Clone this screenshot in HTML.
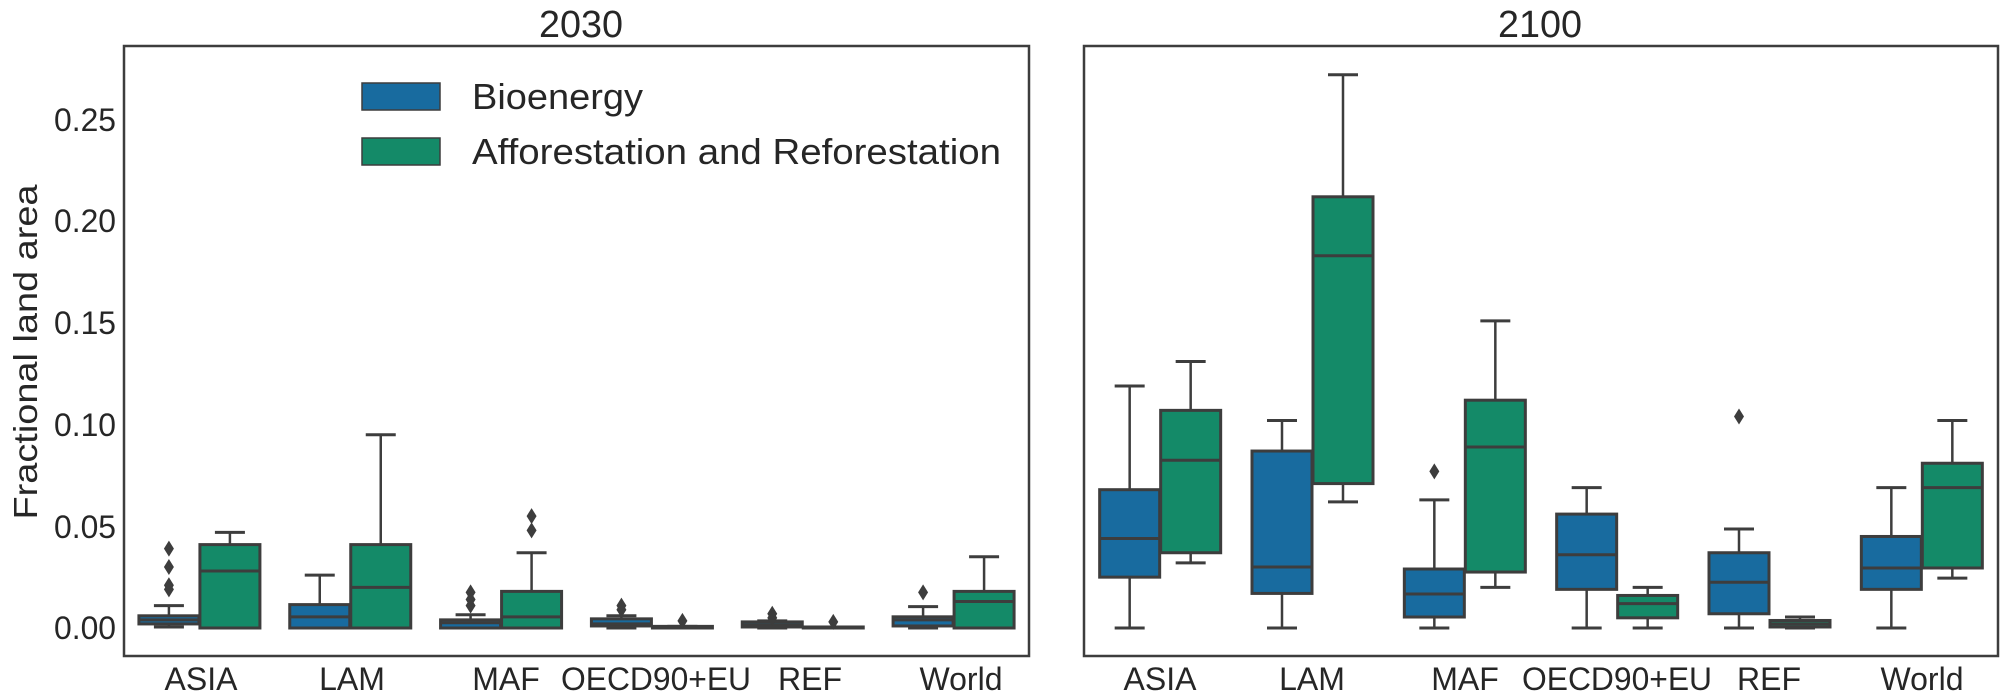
<!DOCTYPE html>
<html><head><meta charset="utf-8"><style>
html,body{margin:0;padding:0;background:#fff;}
svg{display:block;}
text{font-family:"Liberation Sans",Arial,sans-serif;fill:#262626;}
</style></head><body>
<svg id="s" width="2008" height="696" viewBox="0 0 2008 696" xmlns="http://www.w3.org/2000/svg">
<rect width="2008" height="696" fill="#fff"/>
<text x="581" y="37" font-size="38" text-anchor="middle" textLength="84" lengthAdjust="spacingAndGlyphs">2030</text>
<text x="1540" y="37" font-size="38" text-anchor="middle" textLength="84" lengthAdjust="spacingAndGlyphs">2100</text>
<g font-size="32" text-anchor="end">
<text x="116" y="639" textLength="62" lengthAdjust="spacingAndGlyphs">0.00</text>
<text x="116" y="538" textLength="62" lengthAdjust="spacingAndGlyphs">0.05</text>
<text x="116" y="436" textLength="62" lengthAdjust="spacingAndGlyphs">0.10</text>
<text x="116" y="334" textLength="62" lengthAdjust="spacingAndGlyphs">0.15</text>
<text x="116" y="232" textLength="62" lengthAdjust="spacingAndGlyphs">0.20</text>
<text x="116" y="131" textLength="62" lengthAdjust="spacingAndGlyphs">0.25</text>
</g>
<text transform="translate(37,352) rotate(-90)" font-size="33" text-anchor="middle" textLength="335" lengthAdjust="spacingAndGlyphs">Fractional land area</text>
<g font-size="32" text-anchor="middle">
<text x="201" y="690">ASIA</text><text x="352" y="690">LAM</text><text x="506" y="690">MAF</text>
<text x="656" y="690" textLength="190" lengthAdjust="spacingAndGlyphs">OECD90+EU</text><text x="810" y="690">REF</text><text x="961" y="690">World</text>
<text x="1160" y="690">ASIA</text><text x="1312" y="690">LAM</text><text x="1465" y="690">MAF</text>
<text x="1617" y="690" textLength="190" lengthAdjust="spacingAndGlyphs">OECD90+EU</text><text x="1769" y="690">REF</text><text x="1922" y="690">World</text>
</g>
<g id="boxes"></g>
<rect x="124" y="46" width="905" height="610" fill="none" stroke="#3d3d3d" stroke-width="2.5"/>
<rect x="1084" y="46" width="914" height="610" fill="none" stroke="#3d3d3d" stroke-width="2.5"/>
<rect x="362" y="83" width="78" height="27" fill="#186b9f" stroke="#3d3d3d" stroke-width="1.5"/>
<rect x="362" y="138" width="78" height="27" fill="#148a68" stroke="#3d3d3d" stroke-width="1.5"/>
<text x="472" y="109" font-size="36" textLength="171" lengthAdjust="spacingAndGlyphs">Bioenergy</text>
<text x="472" y="164" font-size="36" textLength="529" lengthAdjust="spacingAndGlyphs">Afforestation and Reforestation</text>
</svg>
<script>
var Y=function(v){return 628-v*2034;};
var B="#186b9f",G="#148a68",L="#3d3d3d";
var left=[
 [[0.0005,0.002,0.004,0.006,0.011,[0.039,0.030,0.021,0.019]],[0,0,0.028,0.041,0.047,[]]],
 [[0,0,0.0055,0.0115,0.026,[]],[0,0,0.020,0.041,0.095,[]]],
 [[0,0,0.0026,0.004,0.0065,[0.0175,0.014,0.011]],[0,0,0.0055,0.018,0.037,[0.055,0.048]]],
 [[0,0.001,0.002,0.0045,0.006,[0.011,0.009]],[0,0,0,0.0008,0.0008,[0.0035]]],
 [[0,0.0005,0.0015,0.003,0.0035,[0.007,0.005]],[0,0,0,0.0005,0.0005,[0.003]]],
 [[0,0.001,0.004,0.0055,0.0105,[0.0175]],[0,0,0.013,0.018,0.035,[]]]
];
var right=[
 [[0,0.025,0.044,0.068,0.119,[]],[0.032,0.037,0.0825,0.107,0.131,[]]],
 [[0,0.017,0.030,0.087,0.102,[]],[0.062,0.071,0.183,0.212,0.272,[]]],
 [[0,0.0054,0.0167,0.029,0.063,[0.077]],[0.020,0.0275,0.089,0.112,0.151,[]]],
 [[0,0.019,0.036,0.056,0.069,[]],[0,0.005,0.012,0.016,0.020,[]]],
 [[0,0.007,0.0225,0.037,0.0487,[0.104]],[0,0.0005,0.002,0.0037,0.0054,[]]],
 [[0,0.019,0.0295,0.045,0.069,[]],[0.0245,0.0295,0.069,0.081,0.102,[]]]
];
var g=document.getElementById("boxes"),h="";
function draw(data,x0,w){
 var cw=w/6;
 data.forEach(function(pair,i){
  var c=x0+cw*(i+0.5);
  pair.forEach(function(d,j){
   var cx=c+(j?30.5:-30.5),col=j?G:B;
   var lo=Y(d[0]),q1=Y(d[1]),md=Y(d[2]),q3=Y(d[3]),hi=Y(d[4]);
   h+='<line x1="'+cx+'" x2="'+cx+'" y1="'+hi+'" y2="'+q3+'" stroke="'+L+'" stroke-width="2.5"/>';
   h+='<line x1="'+cx+'" x2="'+cx+'" y1="'+q1+'" y2="'+lo+'" stroke="'+L+'" stroke-width="2.5"/>';
   h+='<line x1="'+(cx-15)+'" x2="'+(cx+15)+'" y1="'+hi+'" y2="'+hi+'" stroke="'+L+'" stroke-width="3"/>';
   h+='<line x1="'+(cx-15)+'" x2="'+(cx+15)+'" y1="'+lo+'" y2="'+lo+'" stroke="'+L+'" stroke-width="3"/>';
   h+='<rect x="'+(cx-30)+'" y="'+q3+'" width="60" height="'+Math.max(q1-q3,1)+'" fill="'+col+'" stroke="'+L+'" stroke-width="3"/>';
   h+='<line x1="'+(cx-30)+'" x2="'+(cx+30)+'" y1="'+md+'" y2="'+md+'" stroke="'+L+'" stroke-width="3"/>';
   d[5].forEach(function(o){var y=Y(o);
    h+='<polygon points="'+cx+','+(y-8)+' '+(cx+5)+','+y+' '+cx+','+(y+8)+' '+(cx-5)+','+y+'" fill="'+L+'"/>';});
  });
 });
}
draw(left,124,905);draw(right,1084,914);
g.innerHTML=h;
</script>
</body></html>
